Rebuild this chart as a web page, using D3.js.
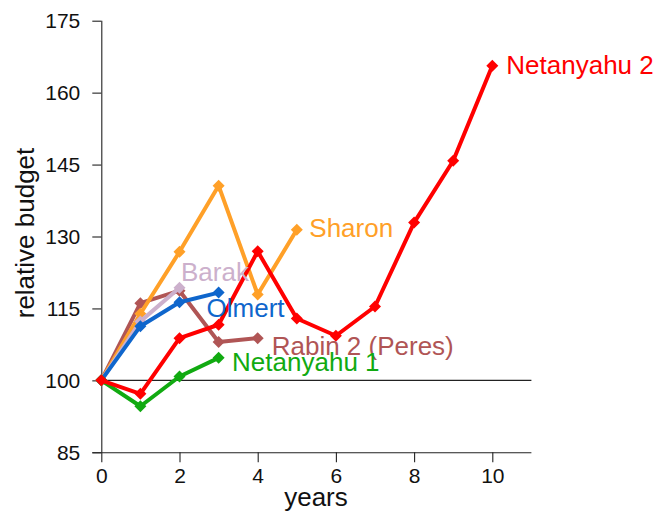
<!DOCTYPE html>
<html><head><meta charset="utf-8">
<script src="https://cdn.jsdelivr.net/npm/d3@7"></script>
<style>body{margin:0;background:#fff}text{font-family:"Liberation Sans",Arial,sans-serif}</style>
</head><body>
<svg id="c" width="657" height="516"></svg>
<script>
const years = [0,1,2,3,4,5,6,7,8,9,10];
const rabin2 = [100,116.1,118.7,108.0,108.8];
const sharon = [100,113.9,126.8,140.6,117.9,131.4];
const barak = [100,112.3,119.3];
const olmert = [100,111.3,116.3,118.3];
const netanyahu1 = [100,94.6,100.8,104.7];
const netanyahu2 = [100,97.2,108.8,111.6,126.9,112.9,109.3,115.4,132.9,145.8,165.6];
const xTicks = [0,2,4,6,8,10];
const yTicks = [85,100,115,130,145,160,175];

const series = [
  {name:"Rabin 2 (Peres)", values:rabin2, color:"#b05555", lx:14, ly:17},
  {name:"Sharon", values:sharon, color:"#ffa028", lx:12.5, ly:7.5},
  {name:"Barak", values:barak, color:"#ccb0cc", lx:1.5, ly:-7},
  {name:"Olmert", values:olmert, color:"#0f66cc", lx:-12, ly:24.5},
  {name:"Netanyahu 1", values:netanyahu1, color:"#11aa11", lx:13.5, ly:13.5},
  {name:"Netanyahu 2", values:netanyahu2, color:"#ff0000", lx:14, ly:8.5}
];

const svg = d3.select("#c");
const x = d3.scaleLinear().domain([0,11]).range([101.3,531.4]);
const y = d3.scaleLinear().domain([85,175]).range([452.3,20.7]);

const ax = svg.append("g").attr("transform","translate(0,452.3)")
  .call(d3.axisBottom(x).tickValues(xTicks).tickSize(10).tickPadding(6).tickSizeOuter(0));
const ay = svg.append("g").attr("transform","translate(101.3,0)")
  .call(d3.axisLeft(y).tickValues(yTicks).tickSize(9).tickPadding(12).tickSizeOuter(0));
[ax,ay].forEach(g=>{
  g.selectAll("path,line").attr("stroke","#222").attr("stroke-width",1.1);
  g.selectAll("text").attr("font-size","21px").attr("fill","#111").attr("font-family","Liberation Sans, Arial, sans-serif");
});
ax.select(".domain").attr("d","M92.3,0.5H531.4");
ay.select(".domain").attr("d","M0.5,20.7V452.3");

svg.append("line").attr("x1",x(0)).attr("x2",x(11)).attr("y1",y(100)).attr("y2",y(100))
  .attr("stroke","#222").attr("stroke-width",1.1);

svg.append("text").attr("x",316).attr("y",505.5).attr("text-anchor","middle")
  .attr("font-size","26px").attr("fill","#111").text("years");
svg.append("text").attr("transform","translate(34,233) rotate(-90)").attr("text-anchor","middle")
  .attr("font-size","26px").attr("fill","#111").text("relative budget");

const line = d3.line().x((d,i)=>x(years[i])).y(d=>y(d));
const diamond = "M0,-6L6,0L0,6L-6,0Z";
series.forEach(s=>{
  const g = svg.append("g");
  g.append("path").attr("d",line(s.values)).attr("fill","none")
    .attr("stroke",s.color).attr("stroke-width",4).attr("stroke-linejoin","round");
  g.selectAll("path.m").data(s.values).join("path").attr("class","m")
    .attr("d",diamond).attr("transform",(d,i)=>`translate(${x(years[i])},${y(d)})`)
    .attr("fill",s.color);
});
series.forEach(s=>{
  const n = s.values.length-1;
  svg.append("text").attr("x",x(years[n])+s.lx).attr("y",y(s.values[n])+s.ly)
    .attr("font-size","26px").attr("fill",s.color).text(s.name);
});
</script>
</body></html>
